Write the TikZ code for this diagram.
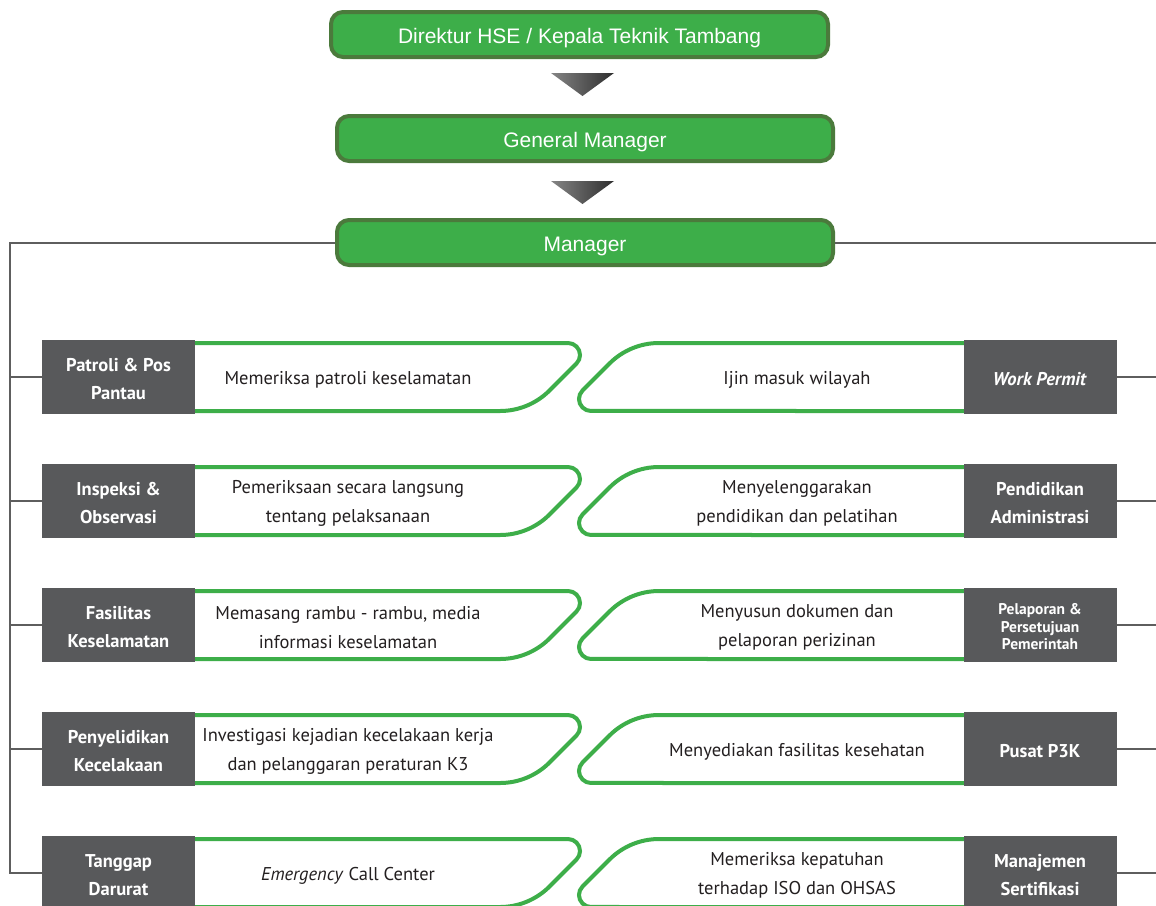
\documentclass[tikz,border=0pt]{standalone}
\usepackage{fontspec}
\setmainfont{PT Sans}
\newfontfamily\hdfont{Liberation Sans}
\definecolor{hsegreen}{HTML}{3DAE49}
\definecolor{hseborder}{HTML}{4B7A3C}
\definecolor{hsegrey}{HTML}{58595B}
\definecolor{hseline}{HTML}{5E5E5E}
\definecolor{hsetext}{HTML}{231F20}
\definecolor{trilight}{HTML}{858585}
\definecolor{tridark}{HTML}{2E2E2E}
\newcommand\hserow[7]{%
  \draw[taskline] (190,{#2-34}) -- (568,{#2-34}) arc[start angle=-90, end angle=45, radius=12]
     -- (549.5,{#2+13.5}) arc[start angle=45, end angle=90, radius=70] -- (190,{#2+34});
  \draw[taskline] (968,{#2-34}) -- (659,{#2-34}) arc[start angle=-90, end angle=-135, radius=70]
     -- (582.5,{#2+13.5}) arc[start angle=-135, end angle=-270, radius=12] -- (968,{#2+34});
  \node[unitbox] (L#1) at (118.5,#2) {};
  \node[unitbox] (R#1) at (1040,#2) {};
  \node[unittext] (LT#1) at ([yshift=-2pt]L#1.center) {#3};
  \node[unittext,#7] (RT#1) at ([yshift=-2pt]R#1.center) {#6};
  \node[desc] (LD#1) at (348,#2) {#4};
  \node[desc] (RD#1) at (797,#2) {#5};
}
\begin{document}
\begin{tikzpicture}[x=1pt,y=-1pt,
  headbox/.style={draw=hseborder, line width=4pt, fill=hsegreen, rounded corners=12pt,
    inner sep=0pt, minimum height=45pt},
  headtext/.style={text=white, font=\hdfont\fontsize{21}{25}\selectfont, inner sep=0pt},
  unitbox/.style={fill=hsegrey, minimum width=153pt, minimum height=74pt, inner sep=0pt},
  unittext/.style={text=white, inner sep=0pt, align=center, font=\bfseries\fontsize{18.5}{28.5}\selectfont},
  desc/.style={text=hsetext, align=center, inner sep=0pt, yshift=-2.5pt, font=\fontsize{18.5}{29}\selectfont},
  taskline/.style={draw=hsegreen, line width=4pt},
  link/.style={draw=hseline, line width=2pt},
  tri/.style={left color=trilight, right color=tridark},
]
\useasboundingbox (0,0) rectangle (1156,905);
\clip (0,0) rectangle (1156,905);
\fill[white] (0,0) rectangle (1156,905);

% header boxes
\node[headbox, minimum width=497pt] (dir) at (579.5,34.5) {};
\node[headbox, minimum width=496pt] (gm) at (585,138.5) {};
\node[headbox, minimum width=496pt] (mgr) at (585,242.5) {};
\node[headtext] (dirT) at ([yshift=-3.5pt]dir.center) {Direktur HSE / Kepala Teknik Tambang};
\node[headtext] (gmT) at ([yshift=-3.5pt]gm.center) {General Manager};
\node[headtext] (mgrT) at ([yshift=-3.5pt]mgr.center) {Manager};

% arrows between header boxes
\shade[tri] (551,73) -- (614,73) -- (582.5,96) -- cycle;
\shade[tri] (551,181) -- (614,181) -- (582.5,204) -- cycle;

% rows
\hserow{1}{377}{Patroli \& Pos\\Pantau}{Memeriksa patroli keselamatan}{Ijin masuk wilayah}{\textit{Work Permit}}{}
\hserow{2}{501}{Inspeksi \&\\Observasi}{Pemeriksaan secara langsung\\tentang pelaksanaan}{Menyelenggarakan\\pendidikan dan pelatihan}{Pendidikan\\Administrasi}{}
\hserow{3}{625}{Fasilitas\\Keselamatan}{Memasang rambu - rambu, media\\informasi keselamatan}{Menyusun dokumen dan\\pelaporan perizinan}{Pelaporan \&\\Persetujuan\\Pemerintah}{font=\bfseries\fontsize{15.5}{17.5}\selectfont}
\hserow{4}{749}{Penyelidikan\\Kecelakaan}{Investigasi kejadian kecelakaan kerja\\dan pelanggaran peraturan K3}{Menyediakan fasilitas kesehatan}{Pusat P3K}{}
\hserow{5}{873}{Tanggap\\Darurat}{\textit{Emergency} Call Center}{Memeriksa kepatuhan\\terhadap ISO dan OHSAS}{Manajemen\\Sertifikasi}{}

% connectors
\coordinate (ltrunk) at (10,242.5);
\coordinate (rtrunk) at (1156,242.5);
\draw[link] (mgr.west) -- (ltrunk) |- (L5.west);
\foreach \i in {1,2,3,4} {\draw[link] (ltrunk |- L\i.west) -- (L\i.west);}
\draw[link] (mgr.east) -- (rtrunk);
\foreach \i in {1,2,3,4,5} {\draw[link] (R\i.east) -- (R\i.east -| rtrunk);}
\end{tikzpicture}
\end{document}
